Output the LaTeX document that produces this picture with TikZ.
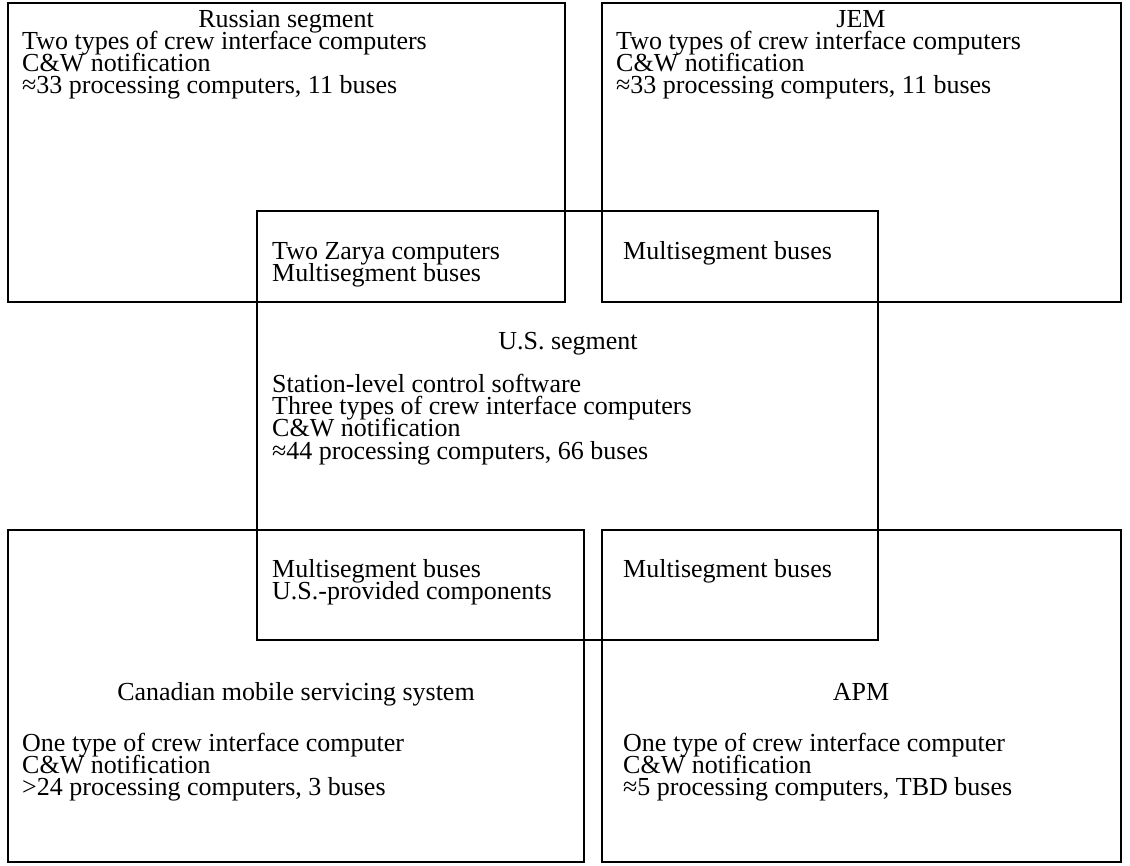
\documentclass[tikz,border=0pt]{standalone}
\usepackage{fontspec}
\setmainfont{Liberation Serif}
\begin{document}
\begin{tikzpicture}[x=1pt,y=-1pt,
  box/.style={draw=black, line width=1.6pt},
  txt/.style={anchor=base west, inner sep=0pt, font=\fontsize{26}{22}\selectfont},
  ttl/.style={anchor=base, inner sep=0pt, font=\fontsize{26}{22}\selectfont}]
\useasboundingbox (0,0) rectangle (1130,866);
% boxes
\draw[box] (8,3) rectangle (565,302);
\draw[box] (602,3) rectangle (1121,302);
\draw[box] (257,211) rectangle (878,640);
\draw[box] (8,530) rectangle (584,862);
\draw[box] (602,530) rectangle (1121,862);
% Russian segment
\node[ttl] (rt) at (286,28) {Russian segment};
\node[txt] (r1) at (22,50) {Two types of crew interface computers};
\node[txt] (r2) at (22,72) {C\&W notification};
\node[txt] (r3) at (22,94) {≈33 processing computers, 11 buses};
% JEM
\node[ttl] (jt) at (861,28) {JEM};
\node[txt] (j1) at (616,50) {Two types of crew interface computers};
\node[txt] (j2) at (616,72) {C\&W notification};
\node[txt] (j3) at (616,94) {≈33 processing computers, 11 buses};
% overlaps top
\node[txt] (z1) at (272,260) {Two Zarya computers};
\node[txt] (z2) at (272,282) {Multisegment buses};
\node[txt] (jo) at (623,260) {Multisegment buses};
% US
\node[ttl] (ut) at (568,350) {U.S. segment};
\node[txt] (u1) at (272,393) {Station-level control software};
\node[txt] (u2) at (272,415) {Three types of crew interface computers};
\node[txt] (u3) at (272,437) {C\&W notification};
\node[txt] (u4) at (272,459) {≈44 processing computers, 66 buses};
% overlaps bottom
\node[txt] (c1) at (272,577) {Multisegment buses};
\node[txt] (c2) at (272,599) {U.S.-provided components};
\node[txt] (ao) at (623,577) {Multisegment buses};
% Canadian
\node[ttl] (ct) at (296,700) {Canadian mobile servicing system};
\node[txt] (k1) at (22,751) {One type of crew interface computer};
\node[txt] (k2) at (22,773) {C\&W notification};
\node[txt] (k3) at (22,795) {>24 processing computers, 3 buses};
% APM
\node[ttl] (at) at (861,700) {APM};
\node[txt] (a1) at (623,751) {One type of crew interface computer};
\node[txt] (a2) at (623,773) {C\&W notification};
\node[txt] (a3) at (623,795) {≈5 processing computers, TBD buses};
\end{tikzpicture}
\end{document}
